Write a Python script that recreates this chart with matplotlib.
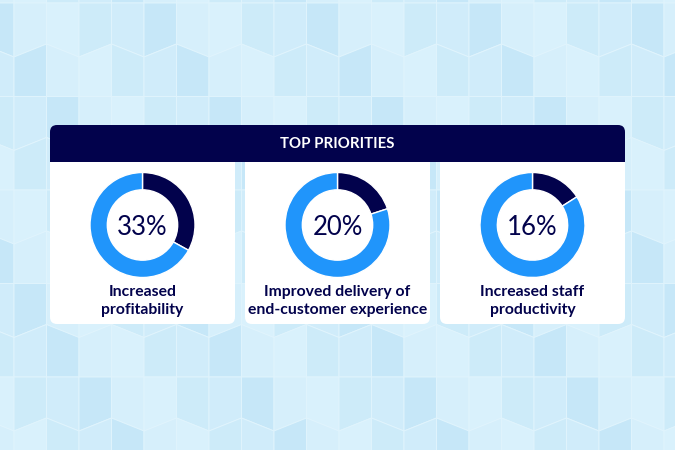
import matplotlib
matplotlib.use("Agg")
import matplotlib.pyplot as plt
from matplotlib.patches import FancyBboxPatch, Rectangle, Polygon

# chart data
priorities = ["Increased\nprofitability",
              "Improved delivery of\nend-customer experience",
              "Increased staff\nproductivity"]
shares = [33, 20, 16]
title = "TOP PRIORITIES"

NAVY = "#02024c"
BLUE = "#2095fb"
W, H = 675, 450

plt.rcParams['font.family'] = ['Lato', 'DejaVu Sans']

fig = plt.figure(figsize=(6.75, 4.5), dpi=100)
bg = fig.add_axes([0, 0, 1, 1])
bg.set_xlim(0, W)
bg.set_ylim(H, 0)
bg.axis("off")

# decorative tiled background
shades = ["#d6effb", "#cdebf9", "#c6e7f8", "#d9f1fc", "#d0ecfa"]
bg.add_patch(Rectangle((0, 0), W, H, color="#d0ecfa", zorder=0))
col_w, row_h = 32.5, 93.5
for i in range(-1, 22):
    a = 14 + col_w * i
    b = a + col_w
    for k in range(-1, 6):
        s0 = 3 + row_h * k
        s1 = s0 + row_h
        z = s0 + 47.5
        zl, zr = (z + 6.5, z - 6.5) if i % 2 == 0 else (z - 6.5, z + 6.5)
        top = [(a, s0), (b, s0), (b, zr), (a, zl)]
        bot = [(a, zl), (b, zr), (b, s1), (a, s1)]
        for n, pts in enumerate([top, bot]):
            c = shades[(3 * i + 7 * (2 * k + n)) % len(shades)]
            bg.add_patch(Polygon(pts, closed=True, facecolor=c,
                                 edgecolor="#e0f4fd", lw=0.7, zorder=1))

# header bar
hx0, hx1, hy0, hy1 = 50, 625, 125, 162
bg.add_patch(FancyBboxPatch((hx0 + 7, hy0 + 7), hx1 - hx0 - 14, hy1 - hy0 - 14,
                            boxstyle="round,pad=7", fc=NAVY, ec="none", zorder=3))
bg.add_patch(Rectangle((hx0, hy1 - 10), hx1 - hx0, 10, fc=NAVY, ec="none", zorder=3))
bg.text((hx0 + hx1) / 2, (hy0 + hy1) / 2, title, color="white", fontsize=10.8,
        fontweight="bold", ha="center", va="center", zorder=4)

# cards with donuts
card_w, gap = 185, 10
cy0, cy1 = 162, 324
for j, (label, val) in enumerate(zip(priorities, shares)):
    x0 = hx0 + j * (card_w + gap)
    bg.add_patch(FancyBboxPatch((x0 + 7, cy0 + 7), card_w - 14, cy1 - cy0 - 14,
                                boxstyle="round,pad=7", fc="white", ec="none", zorder=3))
    bg.add_patch(Rectangle((x0, cy0), card_w, 12, fc="white", ec="none", zorder=3))
    cx = x0 + card_w / 2
    bg.text(cx, 301, label, color=NAVY, fontsize=11.3, fontweight="bold",
            ha="center", va="center", linespacing=1.3, zorder=4)

    r, ccy = 52.5, 225
    ax = fig.add_axes([(cx - r) / W, 1 - (ccy + r) / H, 2 * r / W, 2 * r / H])
    ax.pie([val, 100 - val], colors=[NAVY, BLUE], startangle=90, counterclock=False,
           radius=1, wedgeprops=dict(width=0.33, edgecolor="white", linewidth=1))
    ax.set_xlim(-1, 1)
    ax.set_ylim(-1, 1)
    ax.text(0, -0.04, f"{val}%", color=NAVY, fontsize=18.5, ha="center", va="center")

fig.savefig("out.png", dpi=100)
